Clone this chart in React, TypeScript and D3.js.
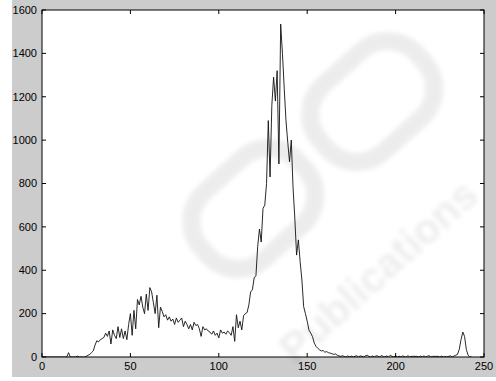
import React from 'react';
import * as d3 from 'd3';

// grey-level histogram, one count per bin starting at 0
const counts = [
  0, 0, 0, 0, 0, 0, 0, 0, 0, 0,
  0, 0, 0, 0, 0, 20, 0, 0, 0, 0,
  4, 0, 0, 0, 0, 3, 8, 12, 20, 28,
  55, 75, 70, 80, 85, 90, 110, 95, 120, 60,
  125, 100, 85, 140, 90, 130, 85, 120, 80, 150,
  200, 100, 215, 130, 265, 240, 280, 230, 200, 290,
  215, 320, 300, 250, 200, 285, 135, 230, 210, 185,
  195, 170, 185, 165, 175, 150, 180, 160, 170, 180,
  140, 165, 150, 130, 150, 125, 160, 145, 150, 130,
  95, 140, 125, 130, 120, 115, 105, 120, 100, 110,
  88, 125, 110, 115, 105, 120, 112, 100, 140, 72,
  195, 135, 165, 125, 190, 200, 205, 240, 300, 310,
  365, 375, 510, 590, 530, 685, 700, 800, 1090, 830,
  1160, 1290, 1180, 1320, 890, 1535, 1400, 1240, 1090, 990,
  900, 1000, 780, 640, 470, 540, 440, 355, 232, 200,
  165, 124, 110, 94, 64, 49, 40, 33, 28, 30,
  22, 25, 20, 18, 15, 12, 14, 8, 5, 3,
  6, 2, 0, 5, 0, 4, 0, 3, 6, 0,
  5, 3, 0, 6, 8, 2, 0, 5, 0, 6,
  4, 0, 7, 2, 0, 5, 0, 8, 3, 0,
  6, 0, 4, 0, 5, 2, 0, 6, 0, 3,
  3, 3, 3, 0, 4, 0, 5, 0, 4, 6,
  0, 3, 3, 3, 3, 0, 4, 0, 2, 0,
  3, 5, 0, 4, 8, 12, 35, 80, 115, 95,
  35, 8, 0, 0,
];

const xTicks = [0, 50, 100, 150, 200, 250];
const yTicks = [0, 200, 400, 600, 800, 1000, 1200, 1400, 1600];

const W = 496;
const H = 381;
const plot = { left: 42, top: 10, right: 484, bottom: 357 };
const font = '"Liberation Sans", Arial, Helvetica, sans-serif';

const App = () => {
  const x = d3.scaleLinear().domain([0, 250]).range([plot.left, plot.right]);
  const y = d3.scaleLinear().domain([0, 1600]).range([plot.bottom, plot.top]);

  const line = d3.line<number>()
    .x((d, i) => x(i))
    .y(d => y(d));

  const tick = 4;

  return (
    <svg width={W} height={H} style={{ position: 'absolute', left: 0, top: 0 }}>
      <defs>
        <filter id="blur" x="-20%" y="-20%" width="140%" height="140%">
          <feGaussianBlur stdDeviation="2.5" />
        </filter>
        <clipPath id="plotClip">
          <rect x={plot.left} y={plot.top} width={plot.right - plot.left} height={plot.bottom - plot.top} />
        </clipPath>
      </defs>
      <rect x={0} y={0} width={W} height={H} fill="#fff" />
      <rect x={12} y={0} width={W - 12} height={377} fill="#cccccc" />
      <rect x={plot.left} y={plot.top} width={plot.right - plot.left} height={plot.bottom - plot.top} fill="#fff" />

      {/* faint watermark */}
      <g filter="url(#blur)" opacity={0.07}>
        <g clipPath="url(#plotClip)">
          <g transform="translate(360,200) rotate(-42)">
            <rect x={-150} y={-110} width={130} height={90} rx={40} fill="none" stroke="#000" strokeWidth={18} />
            <rect x={10} y={-110} width={130} height={90} rx={40} fill="none" stroke="#000" strokeWidth={18} />
          </g>
        </g>
        <text x={0} y={0} transform="translate(388,282) rotate(-42)" textAnchor="middle" fontFamily={font} fontWeight="bold" fontSize={42} fill="#000">Publications</text>
      </g>

      <path d={line(counts) || ''} fill="none" stroke="#111" strokeWidth={0.9} clipPath="url(#plotClip)" />

      <rect x={plot.left} y={plot.top} width={plot.right - plot.left} height={plot.bottom - plot.top} fill="none" stroke="#000" strokeWidth={1} />

      {xTicks.map(t => (
        <g key={`x${t}`}>
          <line x1={x(t)} x2={x(t)} y1={plot.bottom} y2={plot.bottom - tick} stroke="#000" />
          <line x1={x(t)} x2={x(t)} y1={plot.top} y2={plot.top + tick} stroke="#000" />
          <text x={x(t)} y={plot.bottom + 13} textAnchor="middle" fontFamily={font} fontSize={11} fill="#000">{t}</text>
        </g>
      ))}
      {yTicks.map(t => (
        <g key={`y${t}`}>
          <line x1={plot.left} x2={plot.left + tick} y1={y(t)} y2={y(t)} stroke="#000" />
          <line x1={plot.right} x2={plot.right - tick} y1={y(t)} y2={y(t)} stroke="#000" />
          <text x={plot.left - 5} y={y(t)} dy="0.35em" textAnchor="end" fontFamily={font} fontSize={11} fill="#000">{t}</text>
        </g>
      ))}
    </svg>
  );
};

export default App;
